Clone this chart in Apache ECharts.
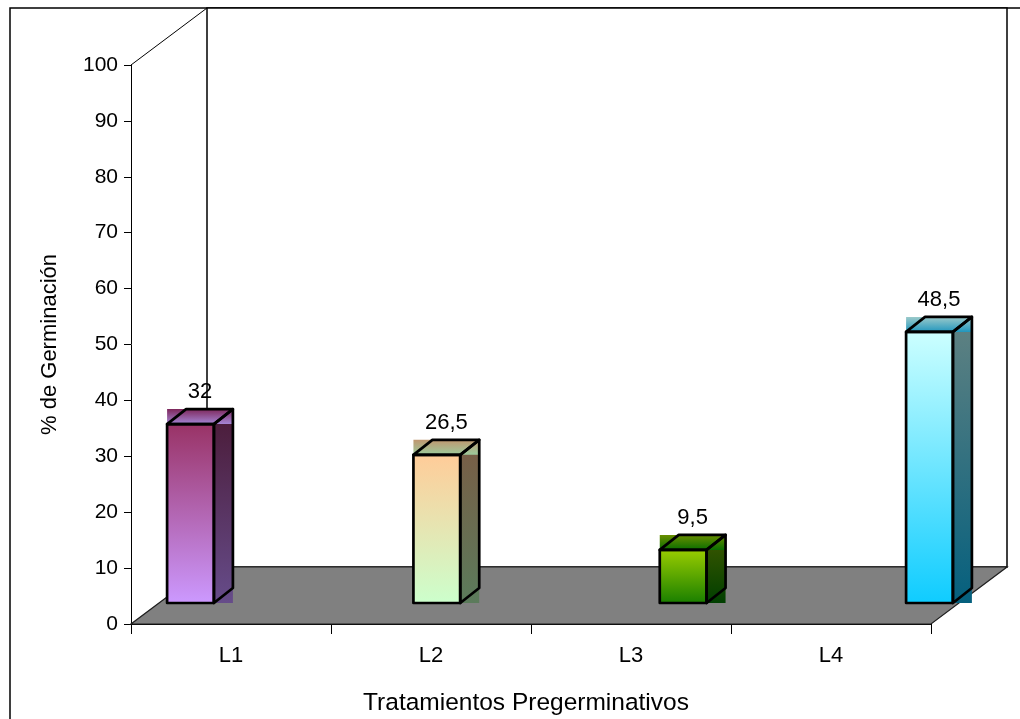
<!DOCTYPE html>
<html>
<head>
<meta charset="utf-8">
<script src="https://cdn.jsdelivr.net/npm/echarts@6/dist/echarts.min.js"></script>
<style>
  html, body { margin: 0; padding: 0; background: #ffffff; }
  #chart { width: 1020px; height: 719px; }
</style>
</head>
<body>
<div id="chart"></div>
<script>
// Germination percentage per pre-germination treatment
const categories = ['L1', 'L2', 'L3', 'L4'];
const germination = [32, 26.5, 9.5, 48.5];
const yMin = 0;
const yMax = 100;
const yStep = 10;

// Per-bar two-colour gradients: front face, side face, top face
const barFills = [
  { front: ['#993366', '#CC99FF'], side: ['#4A1A36', '#664C8A'], top: ['#7E285C', '#A586D6'] },
  { front: ['#FFCC99', '#CCFFCC'], side: ['#7A5C45', '#5B7B5B'], top: ['#C09770', '#9CCB9C'] },
  { front: ['#99CC00', '#1A7F00'], side: ['#3E5800', '#003F00'], top: ['#6A8E00', '#0A6E00'] },
  { front: ['#CCFFFF', '#0FCCFF'], side: ['#618282', '#05607E'], top: ['#9CCACA', '#2297BE'] }
];

const FONT = "'Liberation Sans', Arial, sans-serif";
const DEPTH = [76, -57];      // oblique offset of the plot box
const BAR_DEPTH = [19, -15];  // oblique offset of each column
const BAR_RATIO = 0.19;       // column width as part of a category slot

function fmt(v) { return String(v).replace('.', ','); }
function vgrad(c) {
  return { type: 'linear', x: 0, y: 0, x2: 0, y2: 1,
    colorStops: [{ offset: 0, color: c[0] }, { offset: 1, color: c[1] }] };
}

// Walls and floor of the 3D box, placed from the visible axes
function renderBox(params, api) {
  const band = api.size([1, 0])[0];
  const x0 = api.coord([0, yMin])[0] - band / 2;
  const x1 = api.coord([categories.length - 1, yMin])[0] + band / 2;
  const y0 = api.coord([0, yMin])[1];
  const yT = api.coord([0, yMax])[1];
  const dx = DEPTH[0], dy = DEPTH[1];
  return {
    type: 'group',
    children: [
      { type: 'rect', shape: { x: x0 + dx, y: yT + dy, width: x1 - x0, height: y0 - yT },
        style: { fill: '#ffffff', stroke: '#000000', lineWidth: 1.5 } },
      { type: 'line', shape: { x1: x0, y1: yT, x2: x0 + dx, y2: yT + dy },
        style: { stroke: '#000000', lineWidth: 1 } },
      { type: 'polygon', shape: { points: [[x0, y0], [x1, y0], [x1 + dx, y0 + dy], [x0 + dx, y0 + dy]] },
        style: { fill: '#808080', stroke: '#1e1e1e', lineWidth: 1.2 } }
    ]
  };
}

// One 3D column per treatment
function renderColumn(params, api) {
  const i = api.value(0);
  const v = api.value(1);
  const top = api.coord([i, v]);
  const base = api.coord([i, 0]);
  const bw = api.size([1, 0])[0] * BAR_RATIO;
  const xl = top[0] - bw / 2, xr = top[0] + bw / 2;
  const yt = top[1], yb = base[1];
  const dx = BAR_DEPTH[0], dy = BAR_DEPTH[1];
  const f = barFills[i];
  const edge = { fill: 'none', stroke: '#000000', lineWidth: 2.7, lineJoin: 'round' };
  return {
    type: 'group',
    children: [
      { type: 'rect', shape: { x: xr, y: yt + dy, width: dx, height: yb - yt - dy },
        style: { fill: vgrad(f.side) } },
      { type: 'rect', shape: { x: xl, y: yt + dy, width: xr + dx - xl, height: -dy },
        style: { fill: vgrad(f.top) } },
      { type: 'rect', shape: { x: xl, y: yt, width: bw, height: yb - yt },
        style: { fill: vgrad(f.front) } },
      { type: 'polygon', shape: { points: [[xl, yt], [xr, yt], [xr, yb], [xl, yb]] }, style: edge },
      { type: 'polygon', shape: { points: [[xl, yt], [xl + dx, yt + dy], [xr + dx, yt + dy], [xr, yt]] }, style: edge },
      { type: 'polygon', shape: { points: [[xr, yt], [xr + dx, yt + dy], [xr + dx, yb + dy], [xr, yb]] }, style: edge },
      { type: 'text', style: { x: (xl + xr + dx) / 2, y: yt + dy - 17, text: fmt(v),
          fill: '#000000', font: '22px ' + FONT, textAlign: 'center', textVerticalAlign: 'middle' } }
    ]
  };
}

const chart = echarts.init(document.getElementById('chart'), null, { renderer: 'canvas' });
chart.setOption({
  animation: false,
  backgroundColor: '#ffffff',
  graphic: [
    { type: 'rect', z: -10, shape: { x: 10, y: 8, width: 1040, height: 740 },
      style: { fill: 'none', stroke: '#000000', lineWidth: 1.5 } }
  ],
  grid: [
    { left: 131, right: 89, top: 65, bottom: 95, outerBoundsMode: 'none', containLabel: false },
    { left: 67.33, width: 985.33, top: 44, height: 559, outerBoundsMode: 'none', containLabel: false }
  ],
  xAxis: [
    {
      gridIndex: 0, type: 'category', data: categories, boundaryGap: true,
      axisLine: { lineStyle: { color: '#000000', width: 1 } },
      axisTick: { show: true, length: 10, lineStyle: { color: '#000000' } },
      axisLabel: { color: '#000000', fontSize: 22, fontFamily: FONT, margin: 21 },
      name: 'Tratamientos Pregerminativos', nameLocation: 'middle', nameGap: 67,
      nameTextStyle: { color: '#000000', fontSize: 24.5, fontFamily: FONT, padding: [0, 10, 0, 0] }
    },
    { gridIndex: 1, type: 'category', data: categories, show: false }
  ],
  yAxis: [
    {
      gridIndex: 0, type: 'value', min: yMin, max: yMax, interval: yStep,
      axisLine: { show: true, lineStyle: { color: '#000000', width: 1 } },
      axisTick: { show: true, length: 7, lineStyle: { color: '#000000' } },
      splitLine: { show: false },
      axisLabel: { color: '#000000', fontSize: 21, fontFamily: FONT, margin: 13 },
      name: '% de Germinación', nameLocation: 'middle', nameGap: 70, nameRotate: 90,
      nameTextStyle: { color: '#000000', fontSize: 22, fontFamily: FONT }
    },
    { gridIndex: 1, type: 'value', min: yMin, max: yMax, show: false }
  ],
  series: [
    { type: 'custom', xAxisIndex: 0, yAxisIndex: 0, z: 1, clip: false,
      renderItem: renderBox, data: [[0, 0]], silent: true },
    { type: 'custom', xAxisIndex: 1, yAxisIndex: 1, z: 3, clip: false,
      renderItem: renderColumn,
      data: germination.map((v, i) => [i, v]) }
  ]
});
</script>
</body>
</html>
